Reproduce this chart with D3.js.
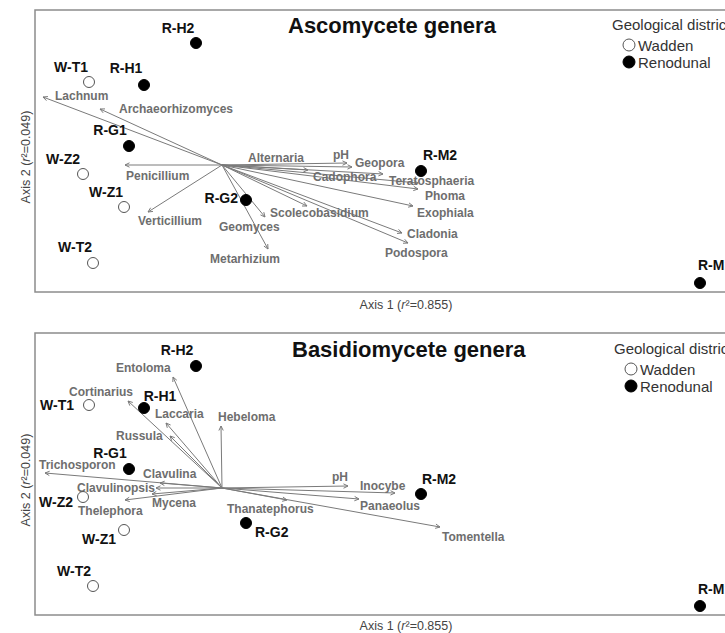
<!DOCTYPE html>
<html>
<head>
<meta charset="utf-8">
<script src="https://cdn.jsdelivr.net/npm/d3@7"></script>
<style>
  body { margin: 0; background: #fff; }
  svg { display: block; }
</style>
</head>
<body>
<svg id="chart" width="725" height="633"></svg>
<script>
// ---- Site scores (NMDS axis 1 / axis 2) ----
const sites        = ["W-T1", "W-T2", "W-Z1", "W-Z2", "R-H1", "R-H2", "R-G1", "R-G2", "R-M1", "R-M2"];
const siteDistrict = ["Wadden", "Wadden", "Wadden", "Wadden", "Renodunal", "Renodunal", "Renodunal", "Renodunal", "Renodunal", "Renodunal"];
const siteAxis1    = [-1.33, -1.29, -0.98, -1.39, -0.78, -0.26, -0.93, 0.24, 4.78, 1.99];
const siteAxis2    = [ 0.83, -0.98, -0.42, -0.09,  0.80,  1.22,  0.19, -0.35, -1.18, -0.06];

// ---- Fitted vectors: Ascomycete genera + pH ----
const ascoVectors = ["Lachnum", "Archaeorhizomyces", "Penicillium", "Verticillium", "Alternaria", "pH",
                     "Geopora", "Cadophora", "Teratosphaeria", "Phoma", "Exophiala", "Cladonia",
                     "Podospora", "Scolecobasidium", "Geomyces", "Metarhizium"];
const ascoAxis1   = [-1.79, -1.22, -0.97, -0.74, 0.86, 1.25, 1.30, 1.61, 1.96, 1.96, 1.91, 1.80, 1.86, 0.85, 0.43, 0.46];
const ascoAxis2   = [ 0.68,  0.56,  0.00, -0.47, -0.05, 0.02, -0.02, -0.09, -0.18, -0.24, -0.41, -0.68, -0.78, -0.41, -0.52, -0.84];

// ---- Fitted vectors: Basidiomycete genera + pH ----
const basidioVectors = ["Entoloma", "Cortinarius", "Laccaria", "Russula", "Hebeloma", "Trichosporon",
                        "Clavulina", "Clavulinopsis", "Mycena", "Thelephora", "pH", "Inocybe",
                        "Panaeolus", "Thanatephorus", "Tomentella"];
const basidioAxis1   = [-0.49, -0.94, -0.56, -0.52, -0.01, -1.77, -0.62, -0.66, -0.70, -0.97, 1.26, 1.73, 1.37, 0.65, 2.18];
const basidioAxis2   = [ 1.11,  0.87,  0.65,  0.52,  0.62,  0.15,  0.05,  0.00, -0.06, -0.12, 0.02, -0.05, -0.11, -0.12, -0.39];

const panelTitles = ["Ascomycete genera", "Basidiomycete genera"];
const districts   = ["Wadden", "Renodunal"];
const axis1Label  = {pre: "Axis 1 (", r: "r", post: "\u00B2=0.855)"};
const axis2Label  = {pre: "Axis 2 (", r: "r", post: "\u00B2=0.049)"};

// ---- Label placement (pixel nudges from the arrow tip / site point) ----
const ascoLabelNudge = {
  "Lachnum": [12, -1], "Archaeorhizomyces": [19, 0], "Penicillium": [1, 11], "Verticillium": [-10, 9],
  "Alternaria": [-60, -12], "pH": [-14, -8], "Geopora": [3, -4], "Cadophora": [-70, 3],
  "Teratosphaeria": [-29, -2], "Phoma": [7, 7], "Exophiala": [4, 7], "Cladonia": [5, 1],
  "Podospora": [-23, 10], "Scolecobasidium": [-37, 7], "Geomyces": [-46, 10], "Metarhizium": [-58, 10]
};
const basidioLabelNudge = {
  "Entoloma": [-57, -9], "Cortinarius": [-59, -9], "Laccaria": [-11, -9], "Russula": [-54, 0],
  "Hebeloma": [-3, -9], "Trichosporon": [-6, -8], "Clavulina": [-17, -9], "Clavulinopsis": [-79, 0],
  "Mycena": [0, 9], "Thelephora": [-47, 11], "pH": [-16, -9], "Inocybe": [-35, -7],
  "Panaeolus": [1, 7], "Thanatephorus": [-60, 9], "Tomentella": [2, 10]
};
// [dx, dy, anchor]
const ascoSiteNudge = {
  "W-T1": [-18, -15, "middle"], "W-T2": [-18, -16, "middle"], "W-Z1": [-18, -15, "middle"],
  "W-Z2": [-20, -15, "middle"], "R-H1": [-18, -17, "middle"], "R-H2": [-18, -15, "middle"],
  "R-G1": [-19, -16, "middle"], "R-G2": [-8, -2, "end"], "R-M1": [-2, -18, "start"], "R-M2": [19, -16, "middle"]
};
const basidioSiteNudge = {
  "W-T1": [-15, 0, "end"], "W-T2": [-19, -15, "middle"], "W-Z1": [-8, 9, "end"],
  "W-Z2": [-10, 5, "end"], "R-H1": [16, -12, "middle"], "R-H2": [-19, -16, "middle"],
  "R-G1": [-19, -16, "middle"], "R-G2": [9, 9, "start"], "R-M1": [-2, -17, "start"], "R-M2": [18, -15, "middle"]
};

const svg = d3.select("#chart");
const FONT = "'Liberation Sans', Arial, sans-serif";

const panels = [
  { top: 10, bottom: 292, title: panelTitles[0], titleX: 288, titleY: 33,
    names: ascoVectors, ax1: ascoAxis1, ax2: ascoAxis2, labelNudge: ascoLabelNudge, siteNudge: ascoSiteNudge,
    legendX: 612, legendY: 24, axis1Y: 305 },
  { top: 333, bottom: 615, title: panelTitles[1], titleX: 292, titleY: 357,
    names: basidioVectors, ax1: basidioAxis1, ax2: basidioAxis2, labelNudge: basidioLabelNudge, siteNudge: basidioSiteNudge,
    legendX: 614, legendY: 348, axis1Y: 626 }
];

const boxLeft = 35, boxRight = 745;
const x = d3.scaleLinear().domain([-1.87, 5.23]).range([boxLeft, boxRight]);

panels.forEach(p => {
  const y = d3.scaleLinear().domain([-1.27, 1.55]).range([p.bottom, p.top]);
  const g = svg.append("g");

  // frame
  g.append("rect")
    .attr("x", boxLeft).attr("y", p.top)
    .attr("width", boxRight - boxLeft).attr("height", p.bottom - p.top)
    .attr("fill", "none").attr("stroke", "#8c8c8c").attr("stroke-width", 1.5);

  // title
  g.append("text")
    .attr("x", p.titleX).attr("y", p.titleY)
    .attr("font-family", FONT).attr("font-weight", "bold").attr("font-size", 22)
    .attr("fill", "#111").text(p.title);

  // axis titles
  const a1 = g.append("text")
    .attr("x", 406).attr("y", p.axis1Y).attr("text-anchor", "middle")
    .attr("dominant-baseline", "central")
    .attr("font-family", FONT).attr("font-size", 12.5).attr("fill", "#444");
  a1.append("tspan").text(axis1Label.pre);
  a1.append("tspan").attr("font-style", "italic").text(axis1Label.r);
  a1.append("tspan").text(axis1Label.post);

  const cy = (p.top + p.bottom) / 2 + 6;
  const a2 = g.append("text")
    .attr("transform", `translate(26,${cy}) rotate(-90)`)
    .attr("text-anchor", "middle").attr("dominant-baseline", "central")
    .attr("font-family", FONT).attr("font-size", 12.5).attr("fill", "#444");
  a2.append("tspan").text(axis2Label.pre);
  a2.append("tspan").attr("font-style", "italic").text(axis2Label.r);
  a2.append("tspan").text(axis2Label.post);

  // fitted vectors
  const ox = x(0), oy = y(0);
  const vec = p.names.map((n, i) => ({ name: n, v1: p.ax1[i], v2: p.ax2[i] }));
  const arrows = g.append("g").attr("stroke", "#7a7a7a").attr("stroke-width", 1).attr("fill", "none");
  vec.forEach(d => {
    const tx = x(d.v1), ty = y(d.v2);
    const ang = Math.atan2(ty - oy, tx - ox);
    const L = 5, w = 0.45;
    arrows.append("line").attr("x1", ox).attr("y1", oy).attr("x2", tx).attr("y2", ty);
    arrows.append("path").attr("d",
      `M${tx - L * Math.cos(ang - w)},${ty - L * Math.sin(ang - w)} L${tx},${ty} L${tx - L * Math.cos(ang + w)},${ty - L * Math.sin(ang + w)}`);
  });
  g.append("g").selectAll("text").data(vec).join("text")
    .attr("x", d => x(d.v1) + p.labelNudge[d.name][0])
    .attr("y", d => y(d.v2) + p.labelNudge[d.name][1])
    .attr("dominant-baseline", "central")
    .attr("font-family", FONT).attr("font-weight", "bold").attr("font-size", 12)
    .attr("fill", "#6e6e6e").text(d => d.name);

  // sites
  const siteData = sites.map((s, i) => ({ name: s, district: siteDistrict[i], a1: siteAxis1[i], a2: siteAxis2[i] }));
  g.append("g").selectAll("circle").data(siteData).join("circle")
    .attr("cx", d => x(d.a1)).attr("cy", d => y(d.a2)).attr("r", 5.5)
    .attr("fill", d => d.district === "Wadden" ? "#fff" : "#000")
    .attr("stroke", d => d.district === "Wadden" ? "#555" : "#000")
    .attr("stroke-width", 1);
  g.append("g").selectAll("text").data(siteData).join("text")
    .attr("x", d => x(d.a1) + p.siteNudge[d.name][0])
    .attr("y", d => y(d.a2) + p.siteNudge[d.name][1])
    .attr("text-anchor", d => p.siteNudge[d.name][2])
    .attr("dominant-baseline", "central")
    .attr("font-family", FONT).attr("font-weight", "bold").attr("font-size", 14)
    .attr("fill", "#111").text(d => d.name);

  // legend
  const lg = g.append("g");
  lg.append("text").attr("x", p.legendX).attr("y", p.legendY)
    .attr("dominant-baseline", "central")
    .attr("font-family", FONT).attr("font-size", 15).attr("fill", "#333")
    .text("Geological district");
  districts.forEach((dname, i) => {
    const ly = p.legendY + 21 + i * 17;
    lg.append("circle").attr("cx", p.legendX + 17).attr("cy", ly).attr("r", 6)
      .attr("fill", dname === "Wadden" ? "#fff" : "#000")
      .attr("stroke", dname === "Wadden" ? "#555" : "#000").attr("stroke-width", 1);
    lg.append("text").attr("x", p.legendX + 26).attr("y", ly)
      .attr("dominant-baseline", "central")
      .attr("font-family", FONT).attr("font-size", 15).attr("fill", "#333").text(dname);
  });
});
</script>
</body>
</html>
